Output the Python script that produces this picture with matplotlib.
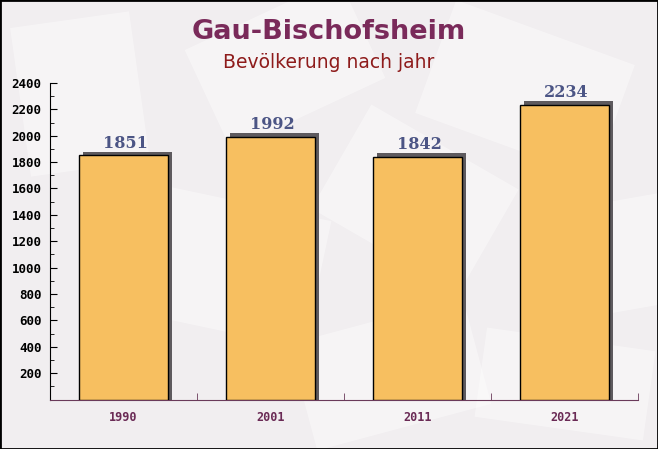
import matplotlib
matplotlib.use("Agg")
import matplotlib.pyplot as plt
from matplotlib.patches import Rectangle
import matplotlib.transforms as mtransforms
import numpy as np

# ---- data ----
years = ["1990", "2001", "2011", "2021"]
population = [1851, 1992, 1842, 2234]
y_ticks = [200, 400, 600, 800, 1000, 1200, 1400, 1600, 1800, 2000, 2200, 2400]

TITLE = "Gau-Bischofsheim"
SUBTITLE = "Bevölkerung nach jahr"

BG = "#F1EEF0"
BAR = "#F7BF60"
SHADOW = "#5E5A5E"
TITLE_COLOR = "#7A2A5A"
SUB_COLOR = "#8E1B1B"
VALUE_COLOR = "#4C5585"
XTICK_COLOR = "#6A2A55"
AXIS_COLOR = "#6A3A5A"

W, H = 658, 449
fig = plt.figure(figsize=(W / 100, H / 100), dpi=100)
fig.patch.set_facecolor(BG)

# faint envelope-like decoration in the background (pixel coords)
deco = [(120, 120, 200, 130, -12), (300, 20, 180, 110, 15), (430, 300, 190, 120, -20),
        (560, 140, 140, 110, 10), (20, 280, 120, 150, 8), (200, 330, 170, 110, 25),
        (330, 190, 170, 120, -30), (480, 20, 170, 90, -8)]
for px, py, pw, ph, ang in deco:
    tr = mtransforms.Affine2D().rotate_deg_around(px + pw / 2, py + ph / 2, ang) + \
        mtransforms.Affine2D().scale(1 / W, 1 / H) + fig.transFigure
    fig.add_artist(Rectangle((px, py), pw, ph, transform=tr, facecolor="white",
                             edgecolor="none", alpha=0.4, zorder=0))

# frame around the figure
fig.add_artist(Rectangle((0, 0), 1, 1, transform=fig.transFigure, fill=False,
                         edgecolor="black", linewidth=2))

# axes in pixel geometry
left, right, top, bottom = 50, 638, 83, 399.5
ax = fig.add_axes([left / W, 1 - bottom / H, (right - left) / W, (bottom - top) / H])
ax.set_facecolor("none")

x = np.arange(len(years))
bw = 0.6
ax.set_xlim(-0.5, len(years) - 0.5)
ax.set_ylim(0, 2400)

# shadow offset in data units (~4 px right, ~3 px up)
dx = 4 / (right - left) * len(years)
dy = 3.5 / (bottom - top) * 2400
ax.bar(x + dx, population, width=bw, bottom=0, color=SHADOW, zorder=2)
ax.bar(x + dx, [dy] * len(x), width=bw, bottom=population, color=SHADOW, zorder=2)
ax.bar(x, population, width=bw, color=BAR, edgecolor="black", linewidth=1, zorder=3)

for xi, v in zip(x, population):
    ax.text(xi + 0.01, v + 28, str(v), ha="center", va="bottom", fontsize=11.5,
            fontweight="bold", family="DejaVu Serif", color=VALUE_COLOR, zorder=4)

for s in ["top", "right"]:
    ax.spines[s].set_visible(False)
ax.spines["left"].set_color("black")
ax.spines["bottom"].set_color(AXIS_COLOR)

ax.set_yticks(y_ticks)
ax.set_yticks(np.arange(100, 2400, 200), minor=True)
ax.tick_params(axis="y", which="major", direction="in", length=5, labelsize=9, pad=6)
ax.tick_params(axis="y", which="minor", direction="in", length=3)
for lab in ax.get_yticklabels():
    lab.set_family("DejaVu Sans Mono")
    lab.set_fontweight("bold")

ax.set_xticks(x)
ax.set_xticklabels(years)
ax.set_xticks(np.arange(0.5, len(years) + 0.5, 1), minor=True)
ax.tick_params(axis="x", which="major", length=0, labelsize=8.5, pad=8, labelcolor=XTICK_COLOR)
ax.tick_params(axis="x", which="minor", length=5, color=AXIS_COLOR, direction="in")
for lab in ax.get_xticklabels():
    lab.set_family("DejaVu Sans Mono")
    lab.set_fontweight("bold")

fig.text(0.5, 1 - 32 / H, TITLE, ha="center", va="center", fontsize=19.5,
         fontweight="bold", color=TITLE_COLOR)
fig.text(0.5, 1 - 63 / H, SUBTITLE, ha="center", va="center", fontsize=13.5,
         color=SUB_COLOR)

fig.savefig("out.png", dpi=100, facecolor=BG)
